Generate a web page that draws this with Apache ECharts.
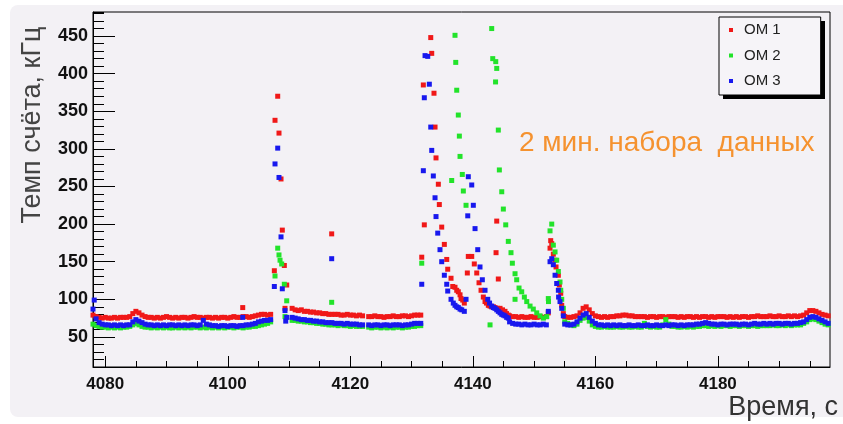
<!DOCTYPE html>
<html><head><meta charset="utf-8">
<script src="https://cdn.jsdelivr.net/npm/echarts@6.0.0/dist/echarts.min.js"></script>
<style>html,body{margin:0;padding:0;background:#fff}#c{width:843px;height:424px}</style>
</head><body><div id="c"></div>
<script>
// ---------- data ----------
const timeStart = 4078.0;   // time of the first regular sample, s
const timeStep = 0.5;       // regular sampling step, s
const seriesNames = ['OM 1', 'OM 2', 'OM 3'];

// regular samples (kHz), null = no data
const om1Base = [
79,77,76,75,76,75,75,76,75,76,
76,76,77,81,84,82,79,77,76,76,
75,76,75,76,77,76,75,76,75,76,
76,75,76,77,76,76,75,76,76,75,
76,75,76,76,75,76,77,76,76,77,
77,76,77,78,79,80,80,79,80,null,
null,null,null,null,null,88,86,85,86,84,
84,83,83,82,82,81,81,80,80,80,
80,79,79,80,79,79,78,79,78,null,
77,77,78,77,77,76,77,77,78,77,
77,78,78,77,78,79,79,79,null,null,
null,null,null,null,null,null,null,null,null,null,
null,null,null,null,null,null,null,null,null,null,
null,null,null,null,null,null,78,77,77,76,
77,76,76,77,76,76,77,76,77,null,
null,null,null,null,77,76,76,77,78,82,
88,90,86,81,78,77,76,77,76,77,
77,78,78,79,79,78,78,77,77,77,
77,76,77,77,76,77,77,76,77,77,
77,76,77,76,77,77,76,77,76,77,
77,76,77,76,77,77,77,76,77,76,
77,76,77,77,76,77,77,78,77,77,
77,78,77,77,78,77,77,78,77,78,
77,78,79,82,85,85,84,82,80,79,
78];

const om2Base = [
67,65,64,63,63,62,63,62,63,62,
63,63,64,66,68,66,64,63,63,62,
63,62,63,62,63,62,62,63,62,63,
62,63,62,63,63,62,63,62,63,62,
63,62,63,62,63,63,62,63,63,62,
63,63,64,64,65,66,67,68,70,null,
null,null,null,null,null,72,72,71,71,70,
70,69,69,68,68,67,67,66,66,66,
65,66,65,65,64,65,64,64,64,null,
63,62,63,63,62,63,62,63,62,63,
63,62,63,63,64,64,65,65,null,null,
null,null,null,null,null,null,null,null,null,null,
null,null,null,null,null,null,null,null,null,null,
null,null,null,null,null,null,null,null,null,null,
null,null,null,null,null,null,null,null,null,null,
null,null,null,null,70,68,66,65,67,72,
75,76,71,66,64,63,63,64,63,63,
63,64,63,63,64,63,63,64,63,63,
68,64,63,64,63,63,66,73,67,64,
64,63,63,64,63,64,63,64,64,65,
65,64,65,64,65,64,65,65,64,65,
65,64,65,65,64,65,65,64,65,65,
65,65,66,65,65,66,65,66,65,66,
66,66,68,70,73,74,73,71,69,67,
66];

const om3Base = [
87,74,69,67,66,66,65,66,65,66,
65,66,66,70,73,71,69,67,66,66,
65,66,65,66,65,66,66,65,66,65,
66,65,66,66,65,66,72,67,66,65,
65,64,65,65,64,65,65,64,65,65,
66,66,67,68,70,71,72,72,73,null,
null,null,null,null,null,76,75,74,73,73,
72,72,71,71,70,70,69,69,69,68,
68,68,67,68,67,67,67,66,66,null,
66,65,66,66,65,66,66,65,66,66,
66,65,66,66,67,68,68,68,null,null,
null,null,null,null,null,null,null,null,null,null,
null,null,null,null,null,null,null,null,null,null,
null,null,null,null,null,null,70,68,67,67,
66,67,66,66,67,66,66,67,66,null,
null,null,null,null,67,66,66,67,70,75,
79,81,76,71,68,66,66,65,66,65,
66,65,66,65,65,66,65,65,66,65,
65,66,65,65,66,65,65,66,65,66,
66,65,66,65,66,66,66,67,67,68,
69,68,67,67,66,67,67,66,67,67,
67,66,67,67,66,67,68,67,67,68,
67,68,67,68,68,67,68,68,67,68,
68,69,70,73,76,77,76,74,72,70,
68];

// irregular samples [time s, rate kHz] (bursts)
const om1Extra = [
[4102.44,89],
[4107.6,138],[4107.71,338],[4108.15,370],[4108.36,321],[4108.69,260],[4108.9,192],[4109.23,145],[4109.34,88],[4109.62,119],
[4116.96,187],
[4131.66,156],[4131.92,385],[4132.08,199],[4133.13,448],[4133.29,427],[4133.66,374],[4133.83,329],[4133.99,288],[4134.37,253],[4134.53,226],[4134.92,196],[4135.35,173],[4135.74,153],[4135.9,140],[4136.44,128],[4136.72,117],[4137.09,116],[4137.37,112],[4137.63,110],[4137.91,106],[4138.07,101],[4138.35,99],[4138.61,95],
[4139.1,135],[4139.26,157],[4139.82,157],[4140.24,147],[4140.64,135],[4141.01,122],[4141.34,112],[4141.71,103],[4141.99,97],[4142.23,95],[4142.53,92],[4142.81,91],[4143.08,90],[4143.37,90],[4143.62,89],[4144.03,88],[4144.44,88],[4144.85,86],[4145.25,84],[4145.5,81],[4145.79,79],
[4143.79,162],[4143.9,204],[4144.16,127],
[4152.32,82],[4152.6,168],[4152.71,178],[4152.88,174],[4153.14,160],[4153.42,152],[4153.58,143],[4153.96,132],[4154.12,119],[4154.35,108],[4154.51,92],[4154.77,81]
];

const om2Extra = [
[4107.71,131],[4108.15,168],[4108.36,159],[4108.53,152],[4108.8,147],[4109.23,120],[4109.34,77],[4109.62,98],
[4116.96,96],
[4131.66,148],
[4136.55,258],[4137.09,451],[4137.21,415],[4137.37,378],[4137.63,345],[4137.8,317],[4137.91,290],[4138.28,266],[4138.45,244],[4138.89,225],
[4142.81,66],[4143.08,460],[4143.25,420],[4143.71,389],[4143.74,416],[4143.9,407],[4144.16,325],[4144.33,272],[4144.72,243],[4144.98,220],[4145.37,199],[4145.79,177],[4146.23,162],[4146.45,148],[4146.89,134],[4146.89,100],[4147.16,126],[4147.54,115],[4147.98,110],[4148.41,103],[4148.8,97],[4149.34,91],[4149.87,87],[4150.43,82],[4150.97,78],[4151.51,75],[4152.06,77],
[4152.32,101],[4152.35,97],[4152.6,191],[4152.88,200],[4153.14,172],[4153.42,163],[4153.69,152],[4153.96,137],[4154.23,123],[4154.35,112],[4154.51,100],[4154.77,88]
];

const om3Extra = [
[4078.2,99],
[4102.44,76],
[4107.6,117],[4107.71,280],[4108.15,301],[4108.36,262],[4108.69,183],[4108.9,114],[4109.34,85],[4109.46,71],[4109.62,76],
[4116.96,154],
[4131.66,120],[4131.92,271],[4132.08,368],[4132.2,424],[4132.64,423],[4132.9,386],[4133.13,329],[4133.29,298],[4133.55,264],[4133.83,235],[4133.99,210],[4134.27,188],[4134.64,166],[4134.92,150],[4135.35,132],[4135.74,120],[4135.9,111],[4136.44,100],[4136.81,95],[4137.09,92],[4137.37,90],[4137.63,89],[4137.91,87],[4138.19,86],[4138.61,84],[4138.89,100],
[4139.17,211],[4139.26,263],[4139.82,252],[4140.08,225],[4140.36,194],[4140.8,166],[4141.17,143],[4141.55,126],[4141.99,112],[4142.43,100],[4142.73,95],[4143.08,91],[4143.35,89],[4143.62,88],[4143.9,86],[4144.16,84],[4144.44,82],[4144.72,80],[4144.98,79],[4145.25,78],[4145.52,76],[4145.79,75],
[4152.32,84],[4152.6,150],[4152.88,154],[4153.14,146],[4153.42,132],[4153.69,121],[4153.96,112],[4154.0,103],[4154.23,97],[4154.51,88],[4154.77,78]
];

const xMajorTicks = [4080,4100,4120,4140,4160,4180];
const xMinorTicks = [4080,4085,4090,4095,4100,4105,4110,4115,4120,4125,4130,4135,4140,4145,4150,4155,4160,4165,4170,4175,4180,4185,4190,4195];
const yMajorTicks = [50,100,150,200,250,300,350,400,450];

// ---------- chart ----------
function toPoints(base, extra) {
  const pts = [];
  base.forEach(function (v, i) { if (v !== null) pts.push([timeStart + i * timeStep, v]); });
  return pts.concat(extra);
}
const FONT = '"Liberation Sans", Arial, Helvetica, sans-serif';
const colors = ['#f01818', '#22e32a', '#1818ee'];
const plain = function (v) { return String(v); };

const chart = echarts.init(document.getElementById('c'), null, {renderer: 'canvas', width: 843, height: 424});
const option = {
  animation: false,
  backgroundColor: '#ffffff',
  grid: {left: 93, right: 13, top: 12, bottom: 57, show: true, borderColor: '#000', borderWidth: 1,
         backgroundColor: 'transparent', outerBoundsMode: 'none'},
  xAxis: [
    {type: 'value', min: 4078, max: 4198.3, position: 'bottom',
     axisLine: {show: true, lineStyle: {color: '#000', width: 1}},
     axisTick: {show: true, inside: true, length: 11, customValues: xMajorTicks, lineStyle: {color: '#000', width: 1}},
     axisLabel: {show: true, customValues: xMajorTicks, formatter: plain, margin: 9, fontFamily: FONT, fontSize: 17, fontWeight: 'bold', color: '#111'},
     splitLine: {show: false}},
    {type: 'value', min: 4078, max: 4198.3, position: 'bottom',
     axisLine: {show: false},
     axisTick: {show: true, inside: true, length: 6, customValues: xMinorTicks, lineStyle: {color: '#000', width: 1}},
     axisLabel: {show: false}, splitLine: {show: false}}
  ],
  yAxis: [
    {type: 'value', min: 10, max: 482, position: 'left',
     axisLine: {show: true, lineStyle: {color: '#000', width: 1}},
     axisTick: {show: true, inside: true, length: 22, customValues: yMajorTicks, lineStyle: {color: '#000', width: 1}},
     axisLabel: {show: true, customValues: yMajorTicks, formatter: plain, margin: 5, fontFamily: FONT, fontSize: 18, fontWeight: 'bold', color: '#111'},
     splitLine: {show: false}},
    {type: 'value', min: 10, max: 482, interval: 10, position: 'left',
     axisLine: {show: false},
     axisTick: {show: true, inside: true, length: 11, lineStyle: {color: '#000', width: 1}},
     axisLabel: {show: false}, splitLine: {show: false}}
  ],
  legend: {
    show: true, z: 10, orient: 'vertical', left: 719, top: 17,
    padding: [5.5, 40, 6.5, 10], itemGap: 10.5, itemWidth: 4, itemHeight: 4, icon: 'rect',
    backgroundColor: '#f6f4f8', borderColor: '#000', borderWidth: 1, borderRadius: 0,
    textStyle: {fontFamily: FONT, fontSize: 15, color: '#222', padding: [0, 0, 0, 6]},
    data: seriesNames, selectedMode: false
  },
  graphic: [
    {type: 'rect', z: -100, silent: true, shape: {x: 10, y: 5, width: 845, height: 412, r: 8}, style: {fill: '#f3f1f5'}},
    {type: 'rect', z: 5, silent: true, shape: {x: 723, y: 21, width: 102, height: 78}, style: {fill: '#000'}},
    {type: 'text', z: 6, silent: true, x: 33, y: 125, rotation: Math.PI / 2,
     style: {text: 'Темп счёта, кГц', font: '27px ' + FONT, fill: '#444', textAlign: 'center', textVerticalAlign: 'middle', align: 'center', verticalAlign: 'middle'}},
    {type: 'text', z: 6, silent: true, x: 838, y: 408,
     style: {text: 'Время, с', font: '27px ' + FONT, fill: '#333', textAlign: 'right', textVerticalAlign: 'middle', align: 'right', verticalAlign: 'middle'}},
    {type: 'text', z: 6, silent: true, x: 519, y: 143,
     style: {text: '2 мин. набора  данных', font: '28px ' + FONT, fill: '#f5922f', textAlign: 'left', textVerticalAlign: 'middle', align: 'left', verticalAlign: 'middle'}}
  ],
  series: seriesNames.map(function (name, k) {
    const base = [om1Base, om2Base, om3Base][k];
    const extra = [om1Extra, om2Extra, om3Extra][k];
    return {name: name, type: 'scatter', xAxisIndex: 0, yAxisIndex: 0, symbol: 'rect', symbolSize: 5,
            itemStyle: {color: colors[k], opacity: 1}, silent: true, z: 2 + k * 0.1,
            data: toPoints(base, extra)};
  })
};
chart.setOption(option);
</script>
</body></html>
